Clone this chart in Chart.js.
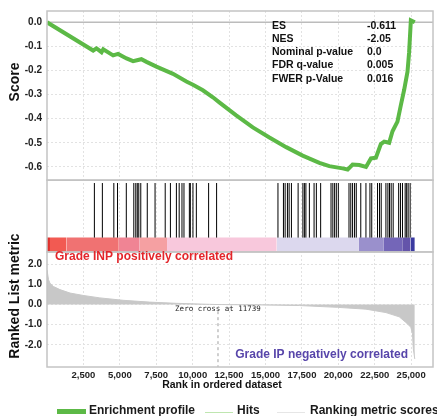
<!DOCTYPE html>
<html>
<head>
<meta charset="utf-8">
<script src="https://cdn.jsdelivr.net/npm/chart.js@4.4.0/dist/chart.umd.min.js"></script>
<style>
  html, body { margin: 0; padding: 0; background: #fff; }
  #wrap { position: relative; width: 437px; height: 416px; }
</style>
</head>
<body>
<div id="wrap"><canvas id="gseaChart"></canvas></div>
<script>
// ---------- DATA ----------
// running enrichment score (rank, score)
const esRanks = [0, 3170, 3400, 3745, 3860, 4540, 4880, 5460, 5910, 6480, 6830, 7510, 8650, 9570,
  10020, 10700, 11390, 11850, 12990, 14130, 15270, 16420, 17550, 18700, 19380, 20290, 20640,
  20980, 21440, 21900, 22240, 22580, 22920, 23150, 23490, 23720, 24060, 24290, 24520, 24750,
  24860, 24980, 25250];
const esScores = [0, -0.117, -0.108, -0.124, -0.112, -0.137, -0.131, -0.150, -0.161, -0.153, -0.164,
  -0.184, -0.214, -0.246, -0.259, -0.282, -0.311, -0.333, -0.386, -0.436, -0.478, -0.518, -0.553,
  -0.583, -0.597, -0.606, -0.611, -0.590, -0.592, -0.600, -0.565, -0.562, -0.505, -0.495, -0.500,
  -0.452, -0.412, -0.345, -0.280, -0.205, -0.125, 0.008, 0];

// positions of gene set members in the ranked list
const hitRanks = [3253, 3801, 4589, 4842, 5445, 5959, 6096, 6199, 6301, 6438, 6884, 7418, 8116,
  8473, 8884, 9075, 9267, 9404, 9774, 9842, 10021, 10253, 11096, 11644,
  15856, 16233, 16349, 16507, 16623, 16781, 17240, 17568, 17671, 17774, 18013, 18335, 18493,
  18787, 19499, 19623, 19746, 19863, 20000, 20733, 20856, 20979, 21116, 21232, 21541, 21897,
  22171, 22294, 22692, 22829, 22945, 23267, 23404, 23514, 23629, 23766, 24143, 24266, 24404,
  24589, 24692, 24794, 24931];

// ranked list metric
const metricRanks = [1, 100, 200, 430, 890, 1580, 2490, 3630, 5230, 7050, 8880, 11160, 11739,
  14590, 17330, 19950, 21900, 23270, 24180, 24640, 24980, 25090, 25150, 25250];
const metricValues = [1.72, 1.25, 1.06, 0.90, 0.74, 0.57, 0.45, 0.33, 0.21, 0.12, 0.06, 0.01, 0,
  -0.02, -0.05, -0.14, -0.23, -0.40, -0.61, -0.89, -1.13, -1.45, -2.2, -2.7];

// heat bar blocks (rank edges)
const bandEdges = [0, 205, 1349, 4931, 6370, 8240, 15773, 21417, 23130, 24383, 24952, 25250];

const xTicks = [2500, 5000, 7500, 10000, 12500, 15000, 17500, 20000, 22500, 25000];
const scoreTicks = [0, -0.1, -0.2, -0.3, -0.4, -0.5, -0.6];
const metricTicks = [2, 1, 0, -1, -2];
const zeroCross = 11739;

const statLabels = ["ES", "NES", "Nominal p-value", "FDR q-value", "FWER p-Value"];
const statValues = ["-0.611", "-2.05", "0.0", "0.005", "0.016"];

// ---------- STYLE ----------
const ES_GREEN = "#5cb946";
const HITS_LEGEND = "#bfe6b0";
const METRIC_GRAY = "#c8c8c8";
const GRID = "#e2e2e2";
const FRAME = "#c4c4c4";
const bandColors = ["#e0302c", "#f25a52", "#f07272", "#f08494", "#f5a0a2", "#f8c8dc",
  "#dcd8ee", "#9a90cc", "#7466b8", "#6454aa", "#3a3aa0"];
const FONT = "'Liberation Sans', Arial, sans-serif";

Chart.defaults.font.family = FONT;

// ---------- DATASETS ----------
const bandSets = bandColors.map((c, i) => ({
  label: "band" + i,
  data: [{ x: bandEdges[i], y: 0.2 }, { x: bandEdges[i + 1], y: 0.2 }],
  yAxisID: "yHits",
  borderWidth: 0,
  pointRadius: 0,
  backgroundColor: c,
  fill: "origin",
}));

const datasets = [
  {
    label: "Enrichment profile",
    data: esRanks.map((r, i) => ({ x: r, y: esScores[i] })),
    yAxisID: "y",
    borderColor: ES_GREEN,
    borderWidth: 4,
    pointRadius: 0,
    fill: false,
  },
  {
    label: "Hits",
    data: hitRanks.flatMap((r) => [{ x: r, y: 0.2 }, { x: r, y: 0.96 }, { x: r, y: null }]),
    yAxisID: "yHits",
    borderColor: "#000",
    borderWidth: 1,
    pointRadius: 0,
    spanGaps: false,
  },
  ...bandSets,
  {
    label: "Zero cross",
    data: [{ x: zeroCross, y: -0.33 }, { x: zeroCross, y: -3.1 }],
    yAxisID: "yMetric",
    borderColor: "#a0a0a0",
    borderWidth: 1,
    borderDash: [3, 3],
    pointRadius: 0,
  },
  {
    label: "Ranking metric scores",
    data: metricRanks.map((r, i) => ({ x: r, y: metricValues[i] })),
    yAxisID: "yMetric",
    borderColor: METRIC_GRAY,
    backgroundColor: METRIC_GRAY,
    borderWidth: 1,
    pointRadius: 0,
    fill: "origin",
  },
];

// ---------- DECORATION (frames, texts, legend) ----------
const decor = {
  id: "decor",
  beforeDatasetsDraw(chart) {
    const { ctx, chartArea: a, scales } = chart;
    const y0 = scales.y.getPixelForValue(0);
    ctx.save();
    ctx.strokeStyle = "#bcbcbc";
    ctx.lineWidth = 1.5;
    ctx.beginPath();
    ctx.moveTo(a.left, y0);
    ctx.lineTo(a.right, y0);
    ctx.stroke();
    ctx.restore();
  },
  afterDatasetsDraw(chart) {
    const { ctx, chartArea: a, scales } = chart;
    ctx.save();
    ctx.strokeStyle = FRAME;
    ctx.lineWidth = 1.5;
    ["y", "yHits", "yMetric"].forEach((id) => {
      const s = scales[id];
      ctx.strokeRect(a.left, s.top, a.right - a.left, s.bottom - s.top);
    });
    ctx.restore();
  },
  afterDraw(chart) {
    const { ctx, scales } = chart;
    ctx.save();
    ctx.textBaseline = "middle";

    // stats box
    ctx.fillStyle = "#111";
    ctx.font = "bold 10.5px " + FONT;
    ctx.textAlign = "left";
    statLabels.forEach((t, i) => {
      ctx.fillText(t, 272, 26 + i * 13.2);
      ctx.fillText(statValues[i], 367, 26 + i * 13.2);
    });

    // phenotype labels
    ctx.font = "bold 12px " + FONT;
    ctx.fillStyle = "#e3262b";
    ctx.fillText("Grade INP positively correlated", 55, 257);
    ctx.fillStyle = "#5846aa";
    ctx.textAlign = "right";
    ctx.fillText("Grade IP negatively correlated", 408, 355);

    // zero cross
    ctx.textAlign = "center";
    ctx.fillStyle = "#222";
    ctx.font = "7.5px 'DejaVu Sans Mono', monospace";
    ctx.fillText("Zero cross at " + zeroCross, scales.x.getPixelForValue(zeroCross), scales.yMetric.getPixelForValue(-0.2));

    // axis titles
    ctx.fillStyle = "#111";
    ctx.font = "bold 10.5px " + FONT;
    ctx.fillText("Rank in ordered dataset", 222, 385);
    ctx.font = "bold 14px " + FONT;
    [["Score", 15.5, 82], ["Ranked List metric", 15, 296]].forEach(([t, x, y]) => {
      ctx.save();
      ctx.translate(x, y);
      ctx.rotate(-Math.PI / 2);
      ctx.fillText(t, 0, 0);
      ctx.restore();
    });

    // legend
    ctx.textAlign = "left";
    ctx.font = "bold 12px " + FONT;
    ctx.fillStyle = ES_GREEN;
    ctx.fillRect(57, 409, 29, 5);
    ctx.lineWidth = 1;
    ctx.strokeStyle = HITS_LEGEND;
    ctx.beginPath(); ctx.moveTo(205, 412.5); ctx.lineTo(233, 412.5); ctx.stroke();
    ctx.strokeStyle = "#e6e6e6";
    ctx.beginPath(); ctx.moveTo(277, 412.5); ctx.lineTo(305, 412.5); ctx.stroke();
    ctx.fillStyle = "#1a1a1a";
    ctx.fillText("Enrichment profile", 89, 410.5);
    ctx.fillText("Hits", 237, 410.5);
    ctx.fillText("Ranking metric scores", 310, 410.5);
    ctx.restore();
  },
};

// ---------- CHART ----------
const yCommon = {
  type: "linear",
  position: "left",
  stack: "gsea",
  afterFit: (s) => { s.width = 47; },
  grid: { color: GRID, drawTicks: false },
  border: { display: false, dash: [2, 2] },
  ticks: { font: { size: 10, weight: "bold" }, color: "#222", padding: 5, callback: (v) => v.toFixed(1) },
};

new Chart(document.getElementById("gseaChart"), {
  type: "line",
  data: { datasets },
  options: {
    responsive: true,
    maintainAspectRatio: false,
    animation: false,
    events: [],
    layout: { padding: { top: 5, right: 4, left: 0, bottom: 29 } },
    plugins: { legend: { display: false }, tooltip: { enabled: false } },
    scales: {
      x: {
        type: "linear",
        position: "bottom",
        min: 0,
        max: 26500,
        offset: false,
        afterFit: (s) => { s.height = 20; },
        afterBuildTicks: (s) => { s.ticks = xTicks.map((v) => ({ value: v })); },
        grid: { color: GRID, drawTicks: false, offset: false },
        border: { display: false, dash: [2, 2] },
        ticks: {
          autoSkip: false,
          maxRotation: 0,
          padding: 3,
          color: "#222",
          font: { size: 9.5, weight: "bold" },
          callback: (v) => String(v).replace(/\B(?=(\d{3})+(?!\d))/g, ","),
        },
      },
      y: {
        ...yCommon,
        weight: 3,
        stackWeight: 172,
        min: -0.655,
        max: 0.047,
        afterBuildTicks: (s) => { s.ticks = scoreTicks.map((v) => ({ value: v })); },
      },
      yHits: {
        ...yCommon,
        weight: 2,
        stackWeight: 73,
        min: 0,
        max: 1,
        grid: { display: false },
        ticks: { display: false },
      },
      yMetric: {
        ...yCommon,
        weight: 1,
        stackWeight: 117,
        min: -3.1,
        max: 2.61,
        afterBuildTicks: (s) => { s.ticks = metricTicks.map((v) => ({ value: v })); },
      },
    },
  },
  plugins: [decor],
});
</script>
</body>
</html>
